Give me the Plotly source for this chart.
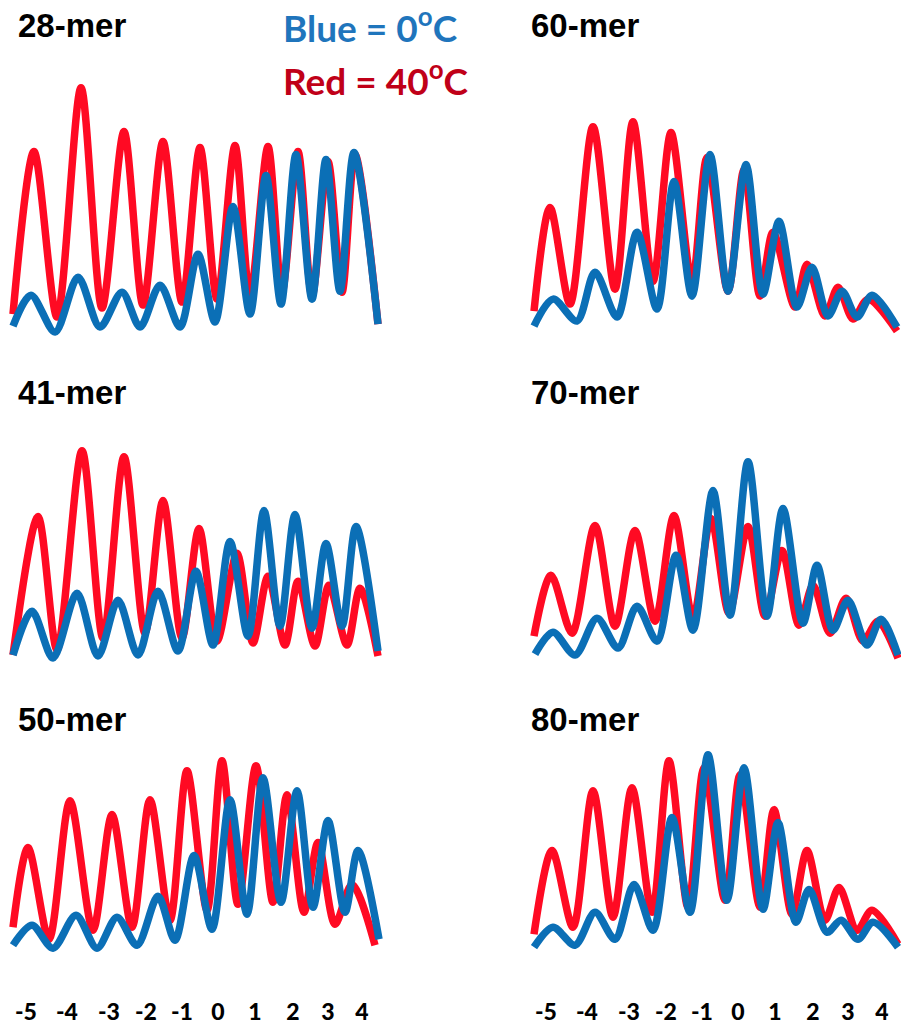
import plotly.graph_objects as go

# ---------------- data (migration position, signal intensity) ----------------
tick_pos = [26, 67, 109, 146, 182, 218, 255, 293, 328, 362]
tick_labels = ["-5", "-4", "-3", "-2", "-1", "0", "1", "2", "3", "4"]

# 28-mer
m28_red_x = [13, 34, 57, 81, 102, 124, 143, 163, 182, 200, 217, 235, 250, 268, 282, 298, 312, 328, 342, 355, 378]
m28_red_y = [25, 188, 22, 252, 31, 208, 34, 198, 37, 192, 40, 194, 43, 193, 47, 188, 43, 178, 47, 185, 15]
m28_blue_x = [13, 31, 55, 78, 100, 122, 140, 160, 180, 198, 215, 233, 250, 266, 281, 296, 312, 326, 340, 354, 378]
m28_blue_y = [13, 44, 7, 62, 12, 47, 12, 54, 12, 85, 17, 133, 25, 164, 35, 185, 40, 180, 48, 187, 15]

# 60-mer
m60_red_x = [14, 30, 50, 73, 95, 113, 133, 151, 172, 187, 208, 224, 240, 253, 275, 287, 305, 318, 333, 348, 377]
m60_red_y = [28, 132, 35, 213, 50, 218, 58, 207, 57, 182, 48, 170, 43, 107, 32, 75, 23, 52, 20, 40, 8]
m60_blue_x = [14, 33, 57, 75, 97, 117, 137, 154, 172, 190, 208, 226, 243, 259, 277, 292, 308, 322, 337, 352, 377]
m60_blue_y = [13, 40, 18, 67, 22, 107, 30, 158, 43, 185, 48, 175, 45, 118, 32, 72, 23, 48, 22, 44, 12]

# 41-mer
m41_red_x = [13, 38, 57, 82, 103, 124, 145, 163, 182, 199, 217, 237, 253, 268, 285, 298, 315, 329, 347, 360, 378]
m41_red_y = [13, 152, 18, 218, 30, 212, 35, 168, 30, 140, 27, 115, 25, 92, 23, 87, 22, 83, 23, 80, 12]
m41_blue_x = [13, 32, 53, 77, 98, 118, 138, 158, 178, 196, 213, 230, 248, 264, 280, 295, 312, 326, 342, 356, 378]
m41_blue_y = [13, 57, 10, 75, 12, 68, 13, 77, 17, 97, 23, 127, 32, 158, 42, 154, 40, 125, 42, 142, 17]

# 70-mer
m70_red_x = [14, 31, 52, 75, 95, 115, 135, 154, 173, 191, 209, 228, 245, 262, 279, 293, 310, 326, 343, 358, 378]
m70_red_y = [32, 93, 35, 143, 42, 138, 47, 153, 50, 150, 55, 142, 52, 118, 43, 83, 35, 70, 27, 47, 10]
m70_blue_x = [15, 33, 55, 77, 98, 117, 137, 156, 173, 193, 210, 228, 247, 263, 283, 297, 313, 328, 347, 361, 378]
m70_blue_y = [14, 36, 13, 50, 20, 62, 27, 113, 38, 178, 53, 207, 52, 160, 45, 103, 38, 68, 23, 49, 13]

# 50-mer
m50_red_x = [13, 28, 49, 70, 93, 112, 132, 150, 170, 187, 207, 222, 238, 256, 273, 287, 304, 318, 335, 352, 375]
m50_red_y = [30, 110, 18, 157, 27, 143, 30, 158, 37, 187, 47, 197, 53, 192, 55, 163, 45, 115, 33, 73, 12]
m50_blue_x = [13, 32, 53, 76, 97, 117, 137, 158, 175, 194, 212, 230, 247, 263, 281, 297, 313, 328, 345, 358, 379]
m50_blue_y = [12, 32, 9, 42, 9, 40, 12, 61, 17, 102, 28, 158, 43, 180, 55, 167, 50, 137, 45, 107, 18]

# 80-mer
m80_red_x = [14, 32, 53, 73, 93, 112, 132, 149, 168, 184, 205, 220, 240, 254, 272, 287, 305, 319, 337, 352, 378]
m80_red_y = [23, 107, 30, 167, 40, 170, 45, 197, 50, 190, 57, 183, 50, 148, 43, 107, 37, 70, 27, 47, 13]
m80_blue_x = [14, 33, 55, 75, 95, 114, 133, 152, 170, 188, 207, 224, 243, 258, 276, 289, 307, 321, 338, 353, 378]
m80_blue_y = [10, 30, 12, 45, 18, 73, 27, 140, 45, 203, 57, 190, 48, 135, 35, 68, 25, 37, 18, 35, 10]

panel_names = ["28-mer", "60-mer", "41-mer", "70-mer", "50-mer", "80-mer"]
panel_red = [(m28_red_x, m28_red_y), (m60_red_x, m60_red_y), (m41_red_x, m41_red_y),
             (m70_red_x, m70_red_y), (m50_red_x, m50_red_y), (m80_red_x, m80_red_y)]
panel_blue = [(m28_blue_x, m28_blue_y), (m60_blue_x, m60_blue_y), (m41_blue_x, m41_blue_y),
              (m70_blue_x, m70_blue_y), (m50_blue_x, m50_blue_y), (m80_blue_x, m80_blue_y)]

# ---------------- layout geometry ----------------
W, H = 901, 1025
col_dom = [(0.0, 390 / W), (520 / W, 1.0)]
col_rng = [(0, 390), (0, 381)]
row_dom = [((H - 340) / H, (H - 80) / H), ((H - 670) / H, (H - 440) / H), ((H - 960) / H, (H - 750) / H)]
row_rng = [(0, 260), (0, 230), (0, 210)]
title_y = [26, 394, 722]
title_x = [16, 529]

RED = "#FF0A23"
BLUE = "#0B6FB6"
LW = 7.5
SMOOTH = 0.85

fig = go.Figure()
layout = dict(
    width=W, height=H, margin=dict(l=0, r=0, t=0, b=0),
    paper_bgcolor="white", plot_bgcolor="white", showlegend=False,
)
annotations = []
for i, name in enumerate(panel_names):
    row, col = divmod(i, 2)
    k = i + 1
    xa = "x" if k == 1 else f"x{k}"
    ya = "y" if k == 1 else f"y{k}"
    rx, ry = panel_red[i]
    bx, by = panel_blue[i]
    fig.add_trace(go.Scatter(x=rx, y=ry, mode="lines", xaxis=xa, yaxis=ya,
                             line=dict(color=RED, width=LW, shape="spline", smoothing=SMOOTH),
                             hoverinfo="skip"))
    fig.add_trace(go.Scatter(x=bx, y=by, mode="lines", xaxis=xa, yaxis=ya,
                             line=dict(color=BLUE, width=LW, shape="spline", smoothing=SMOOTH),
                             hoverinfo="skip"))
    xkey = "xaxis" if k == 1 else f"xaxis{k}"
    ykey = "yaxis" if k == 1 else f"yaxis{k}"
    xd = dict(domain=list(col_dom[col]), range=list(col_rng[col]), anchor=ya,
              showgrid=False, zeroline=False, showline=False, ticks="",
              fixedrange=True)
    if row == 2:
        xd.update(showticklabels=True, tickmode="array", tickvals=tick_pos, ticktext=tick_labels,
                  tickfont=dict(family="Lato", size=23, color="black", weight=900),
                  ticklabelstandoff=39)
    else:
        xd.update(showticklabels=False)
    layout[xkey] = xd
    layout[ykey] = dict(domain=list(row_dom[row]), range=list(row_rng[row]), anchor=xa,
                        showgrid=False, zeroline=False, showline=False, ticks="",
                        showticklabels=False, fixedrange=True)
    annotations.append(dict(text=name, xref="paper", yref="paper",
                            x=title_x[col] / W, y=(H - title_y[row]) / H,
                            xanchor="left", yanchor="middle", showarrow=False,
                            font=dict(family="Liberation Sans", size=33, color="black", weight="bold")))

annotations.append(dict(text="Blue = 0<sup>o</sup>C", xref="paper", yref="paper",
                        x=281 / W, y=(H - 25) / H, xanchor="left", yanchor="middle", showarrow=False,
                        font=dict(family="Lato", size=37, color="#1F75BC", weight="bold")))
annotations.append(dict(text="Red = 40<sup>o</sup>C", xref="paper", yref="paper",
                        x=281 / W, y=(H - 78) / H, xanchor="left", yanchor="middle", showarrow=False,
                        font=dict(family="Lato", size=37, color="#C00018", weight="bold")))
layout["annotations"] = annotations
fig.update_layout(**layout)
fig.write_html("out.html")
